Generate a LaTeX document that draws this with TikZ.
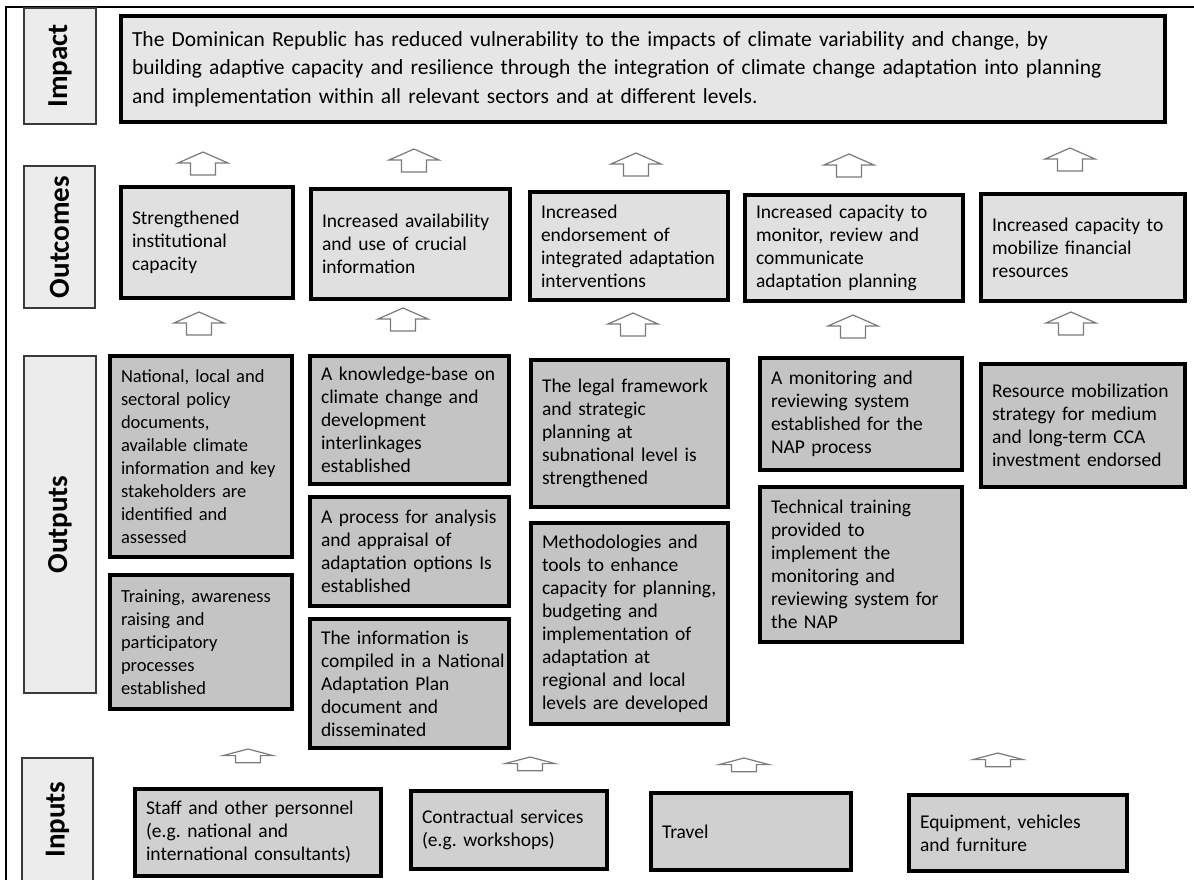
\documentclass[tikz,border=0pt]{standalone}
\usepackage{fontspec}
\setmainfont{Carlito}
\usepackage{tikz}

\definecolor{labfill}{HTML}{ECECEC}
\definecolor{labline}{HTML}{3A3A3A}
\definecolor{impfill}{HTML}{E6E6E6}
\definecolor{outcfill}{HTML}{E0E0E0}
\definecolor{outpfill}{HTML}{C4C4C4}
\definecolor{inpfill}{HTML}{D0D0D0}
\definecolor{arrgray}{HTML}{7A7A7A}

\begin{document}
\frenchspacing
\begin{tikzpicture}[x=1pt,y=-1pt,
  lab/.style={draw=labline,line width=2pt,fill=labfill,rotate=90,inner sep=0pt,
    font=\fontsize{29}{31}\selectfont\bfseries},
  blk/.style={draw=black,line width=4pt,inner xsep=11pt,inner ysep=0pt,align=left,
    font=\fontsize{19.5}{23}\selectfont,
    execute at begin node={\hyphenpenalty=10000\rightskip=0pt plus 1fil minus 40pt}},
  upblock/.pic={\draw[arrgray,line width=1.2pt,fill=white]
    (0,0) -- (25,11) -- (12.5,11) -- (12.5,23) -- (-12.5,23) -- (-12.5,11) -- (-25,11) -- cycle;}]
\useasboundingbox (0,0) rectangle (1194,880);
\fill[white] (0,0) rectangle (1194,880);
% frame
\draw[line width=1.5pt] (6,880) -- (6,7) -- (1194,7);
% row labels
\node[lab,minimum width=116,minimum height=72] (impactlab) at (60,66) {Impact};
\node[lab,minimum width=142,minimum height=71] (outcomelab) at (59.5,237) {Outcomes};
\node[lab,minimum width=337,minimum height=72] (outputlab) at (60,524.5) {Outputs};
\node[lab,minimum width=123,minimum height=71] (inputlab) at (57.5,819.5) {Inputs};
% impact
\node[blk,fill=impfill,text width=1022pt,minimum height=106,font=\fontsize{21.5}{28.5}\selectfont]
  (impact) at (643,69) {The Dominican Republic has reduced vulnerability to the impacts of climate variability and change, by\\
  building adaptive capacity and resilience through the integration of climate change adaptation into planning\\
  and implementation within all relevant sectors and at different levels.};
% outcomes
\node[blk,fill=outcfill,text width=150pt,minimum height=111] (oc1) at (207,242.5)
  {Strengthened\\institutional\\capacity};
\node[blk,fill=outcfill,text width=177pt,minimum height=110] (oc2) at (410.5,244)
  {Increased availability\\and use of crucial\\information};
\node[blk,fill=outcfill,text width=176pt,minimum height=108] (oc3) at (629,246)
  {Increased\\endorsement of\\integrated adaptation\\interventions};
\node[blk,fill=outcfill,text width=196pt,minimum height=106] (oc4) at (854,248)
  {Increased capacity to\\monitor, review and\\communicate\\adaptation planning};
\node[blk,fill=outcfill,text width=182pt,minimum height=107] (oc5) at (1083,247.5)
  {Increased capacity to\\mobilize financial\\resources};
% outputs
\node[blk,fill=outpfill,text width=160pt,minimum height=201,font=\fontsize{18.5}{23}\selectfont] (op1) at (201,456.5)
  {National, local and\\sectoral policy\\documents,\\available climate\\information and key\\stakeholders are\\identified and\\assessed};
\node[blk,fill=outpfill,text width=160pt,minimum height=134,font=\fontsize{18.5}{23}\selectfont] (op2) at (201,642)
  {Training, awareness\\raising and\\participatory\\processes\\established};
\node[blk,fill=outpfill,text width=177pt,minimum height=128] (op3) at (409.5,420)
  {A knowledge-base on\\climate change and\\development\\interlinkages\\established};
\node[blk,fill=outpfill,text width=177pt,minimum height=109] (op4) at (409.5,551.5)
  {A process for analysis\\and appraisal of\\adaptation options Is\\established};
\node[blk,fill=outpfill,text width=177pt,minimum height=129] (op5) at (409.5,683.5)
  {The information is\\compiled in a National\\Adaptation Plan\\document and\\disseminated};
\node[blk,fill=outpfill,text width=175pt,minimum height=147] (op6) at (629.5,433.5)
  {The legal framework\\and strategic\\planning at\\subnational level is\\strengthened};
\node[blk,fill=outpfill,text width=175pt,minimum height=201] (op7) at (629.5,623.5)
  {Methodologies and\\tools to enhance\\capacity for planning,\\budgeting and\\implementation of\\adaptation at\\regional and local\\levels are developed};
\node[blk,fill=outpfill,text width=180pt,minimum height=112] (op8) at (861,414)
  {A monitoring and\\reviewing system\\established for the\\NAP process};
\node[blk,fill=outpfill,text width=180pt,minimum height=155] (op9) at (861,564.5)
  {Technical training\\provided to\\implement the\\monitoring and\\reviewing system for\\the NAP};
\node[blk,fill=outpfill,text width=182pt,minimum height=123] (op10) at (1083,425.5)
  {Resource mobilization\\strategy for medium\\and long-term CCA\\investment endorsed};
% inputs
\node[blk,fill=inpfill,text width=224pt,minimum height=87] (in1) at (258,832.5)
  {Staff and other personnel\\(e.g. national and\\international consultants)};
\node[blk,fill=inpfill,text width=174pt,minimum height=78] (in2) at (509,830)
  {Contractual services\\(e.g. workshops)};
\node[blk,fill=inpfill,text width=178pt,minimum height=77] (in3) at (751,831.5)
  {Travel};
\node[blk,fill=inpfill,text width=196pt,minimum height=76] (in4) at (1018,833)
  {Equipment, vehicles\\and furniture};
% block arrows, impact <- outcomes
\pic at (203,152) {upblock};
\pic at (414,149) {upblock};
\pic at (636,153) {upblock};
\pic at (849,154) {upblock};
\pic at (1070,148) {upblock};
% outcomes <- outputs
\pic at (199,312) {upblock};
\pic at (403,308) {upblock};
\pic at (633,313) {upblock};
\pic at (853,315) {upblock};
\pic at (1071,312) {upblock};
% outputs <- inputs
\pic[yscale=.6] at (248,749) {upblock};
\pic[yscale=.6] at (530,757) {upblock};
\pic[yscale=.6] at (744,758) {upblock};
\pic[yscale=.6] at (998,753) {upblock};
\end{tikzpicture}
\end{document}
